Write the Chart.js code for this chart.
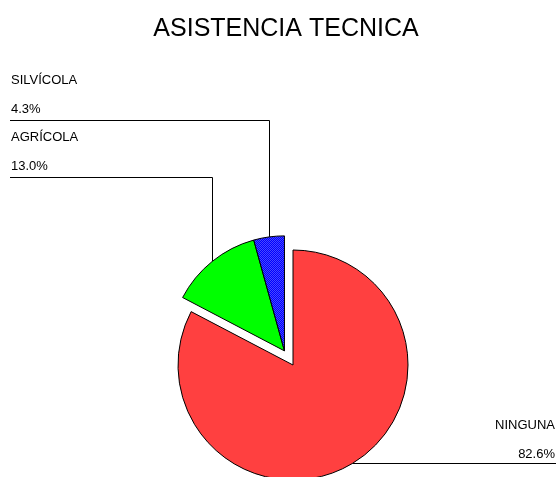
<!DOCTYPE html>
<html>
<head>
<meta charset="utf-8">
<script src="https://cdn.jsdelivr.net/npm/chart.js@4.4.1/dist/chart.umd.min.js"></script>
<style>
    html, body { margin: 0; padding: 0; background: #fff; }
    #wrap { width: 556px; height: 477px; }
</style>
</head>
<body>
<div id="wrap"><canvas id="chart"></canvas></div>
<script>
const categorias = ['NINGUNA', 'AGRÍCOLA', 'SILVÍCOLA']
const porcentajes = [82.6, 13.0, 4.3]
const separados = [false, true, true]

const fuente = '"Liberation Sans", Arial, sans-serif'
const distancia = 16.5

const canvas = document.getElementById('chart')

function tramaAzul() {
    const c = document.createElement('canvas')
    c.width = 2
    c.height = 2
    const g = c.getContext('2d')
    g.fillStyle = '#0000ff'
    g.fillRect(0, 0, 2, 2)
    g.fillStyle = '#4848ff'
    g.fillRect(0, 0, 1, 1)
    g.fillRect(1, 1, 1, 1)
    return canvas.getContext('2d').createPattern(c, 'repeat')
}

const colores = ['#ff4040', '#00ff00', tramaAzul()]

// las porciones separadas se mueven juntas, en la direccion de su angulo medio
const separar = {
    id: 'separar',
    afterLayout(chart) {
        // titulo un poco a la izquierda del centro del pastel
        chart.titleBlock.left -= 7
        chart.titleBlock.right -= 7
    },
    afterUpdate(chart) {
        const arcs = chart.getDatasetMeta(0).data
        let ini = Infinity, fin = -Infinity
        arcs.forEach((a, i) => {
            if (separados[i]) {
                ini = Math.min(ini, a.startAngle)
                fin = Math.max(fin, a.endAngle)
            }
        })
        const medio = (ini + fin) / 2
        arcs.forEach((a, i) => {
            if (separados[i]) {
                a.x += Math.cos(medio) * distancia
                a.y += Math.sin(medio) * distancia
            }
        })
    }
}

// etiquetas con lineas guia
const guias = {
    id: 'guias',
    afterDatasetsDraw(chart) {
        const ctx = chart.ctx
        const arcs = chart.getDatasetMeta(0).data
        const izq = []
        ctx.save()
        ctx.strokeStyle = '#000'
        ctx.lineWidth = 1
        ctx.fillStyle = '#000'
        ctx.font = '13px ' + fuente
        ctx.textBaseline = 'alphabetic'
        arcs.forEach((a, i) => {
            const m = (a.startAngle + a.endAngle) / 2
            const px = a.x + Math.cos(m) * a.outerRadius
            const py = a.y + Math.sin(m) * a.outerRadius
            const texto = porcentajes[i].toFixed(1) + '%'
            if (px > a.x) {
                const y = Math.round(py) + 0.5
                ctx.beginPath()
                ctx.moveTo(px, y)
                ctx.lineTo(chart.width, y)
                ctx.stroke()
                ctx.textAlign = 'right'
                ctx.fillText(categorias[i], chart.width - 1, y - 35)
                ctx.fillText(texto, chart.width - 1, y - 6)
            } else {
                izq.push({ i, px, py, m, texto })
            }
        })
        izq.sort((a, b) => b.m - a.m)
        izq.forEach((e, k) => {
            const y = 120.5 + k * 57
            const x = Math.round(e.px) + 0.5
            ctx.beginPath()
            ctx.moveTo(x, e.py)
            ctx.lineTo(x, y)
            ctx.lineTo(10, y)
            ctx.stroke()
            ctx.textAlign = 'left'
            ctx.fillText(categorias[e.i], 11, y - 37)
            ctx.fillText(e.texto, 11, y - 8)
        })
        ctx.restore()
    }
}

new Chart(canvas, {
    type: 'pie',
    data: {
        labels: categorias,
        datasets: [{
            data: porcentajes,
            backgroundColor: colores,
            borderColor: '#000',
            borderWidth: 1,
            radius: 115,
            clip: false
        }]
    },
    options: {
        responsive: true,
        maintainAspectRatio: false,
        devicePixelRatio: 1,
        animation: false,
        layout: { padding: { left: 30, right: 0, top: 0, bottom: 0 } },
        plugins: {
            legend: { display: false },
            tooltip: { enabled: false },
            title: {
                display: true,
                text: 'ASISTENCIA TECNICA',
                color: '#000',
                font: { family: fuente, size: 25, weight: 'normal' },
                padding: { top: 14, bottom: 209 }
            }
        }
    },
    plugins: [separar, guias]
})
</script>
</body>
</html>
